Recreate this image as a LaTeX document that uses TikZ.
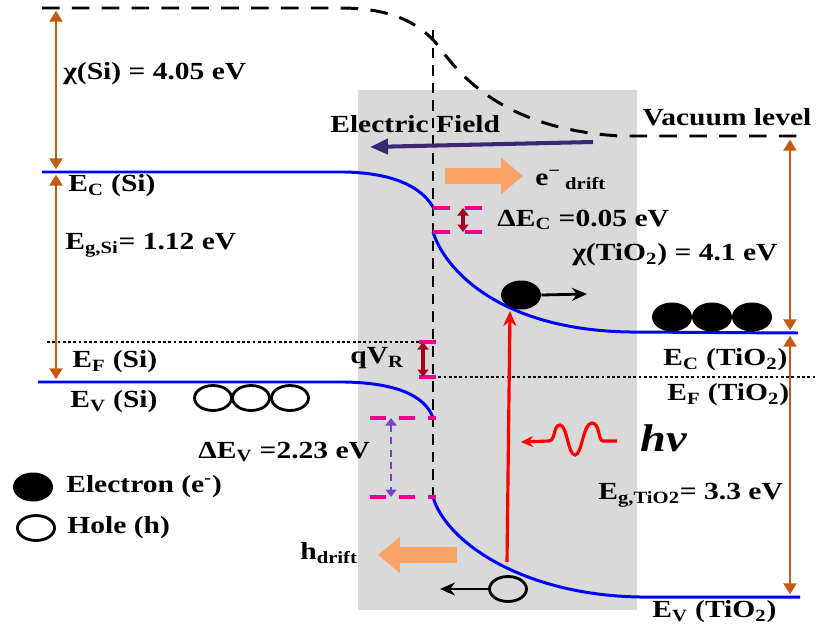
\documentclass[tikz,border=0pt]{standalone}
\usepackage{fontspec}
\setmainfont{Liberation Serif}[FakeStretch=1.2]
\usetikzlibrary{arrows.meta,shapes.geometric}
\definecolor{bandblue}{HTML}{0000FF}
\definecolor{gapbrown}{HTML}{C55A11}
\definecolor{driftorange}{HTML}{F9A366}
\definecolor{junctiongray}{HTML}{D9D9D9}
\definecolor{offsetred}{HTML}{A50021}
\definecolor{fieldpurple}{HTML}{3B2874}
\definecolor{dvviolet}{HTML}{7A3FD0}
\newcommand{\lvl}[2]{#1\textsubscript{#2}}
\newcommand{\tio}{TiO\textsubscript{2}}
\tikzset{
  gtip/.tip={Triangle[length=0.22cm,width=0.26cm]},
  rtip/.tip={Triangle[length=0.15cm,width=0.22cm]},
  lbl/.style={font=\bfseries\fontsize{14}{16}\selectfont, inner sep=0pt, anchor=west},
  band/.style={bandblue, line width=1.7pt},
  vacline/.style={black, line width=1.7pt, dash pattern=on 10pt off 7pt},
  ifline/.style={black, line width=1.5pt, dash pattern=on 6pt off 4pt},
  fermi/.style={black, line width=1.6pt, dash pattern=on 1.6pt off 1.4pt},
  gaparrow/.style={gapbrown, line width=1.1pt, gtip-gtip, shorten <=1.5pt, shorten >=1.5pt},
  offarrow/.style={offsetred, line width=1.8pt, rtip-rtip},
  dvarrow/.style={dvviolet, line width=1.6pt, dash pattern=on 4pt off 3pt, rtip-rtip},
  mtick/.style={magenta, line width=2pt},
  drift/.style={driftorange, line width=0.32cm, -{Triangle[length=0.44cm,width=0.7cm]}},
  electron/.style={ellipse, fill=black, minimum width=0.8cm, minimum height=0.58cm, inner sep=0pt},
  hole/.style={ellipse, draw=black, line width=1.6pt, minimum width=0.74cm, minimum height=0.5cm, inner sep=0pt},
  move/.style={black, line width=1.6pt, -{Stealth[length=0.3cm,width=0.26cm]}},
  absorb/.style={red, line width=1.8pt, -{Stealth[length=0.3cm,width=0.26cm]}}
}
\begin{document}
\begin{tikzpicture}[x=0.02cm,y=-0.02cm]
\useasboundingbox (0,0) rectangle (822,629);
% junction region
\fill[junctiongray] (358,90) rectangle (637,610);

% level end points
\coordinate (vacL) at (42,8);
\coordinate (vacR) at (805,136);
\coordinate (ifTop) at (433,30);
\coordinate (ecL) at (42,172);
\coordinate (ecSiEnd) at (433,207);
\coordinate (ecTiStart) at (433,232);
\coordinate (ecR) at (798,333);
\coordinate (efL) at (47,342);
\coordinate (efM) at (433,342);
\coordinate (efTiL) at (433,377);
\coordinate (efR) at (815,377);
\coordinate (evL) at (38,382);
\coordinate (evSiEnd) at (433,418);
\coordinate (evTiStart) at (433,497);
\coordinate (evR) at (800,597);

% vacuum level and interface
\draw[vacline] (vacL) -- (340,8) .. controls (390,8) and (420,22) .. (440,48)
  .. controls (470,90) and (520,130) .. (620,136) -- (vacR);
\draw[ifline] (ifTop) -- (evTiStart);

% bands
\draw[band] (ecL) -- (345,172) .. controls (390,173) and (420,185) .. (ecSiEnd);
\draw[band] (ecTiStart) .. controls (445,270) and (500,330) .. (630,332) -- (ecR);
\draw[band] (evL) -- (345,382) .. controls (395,383) and (425,395) .. (evSiEnd);
\draw[band] (evTiStart) .. controls (445,540) and (520,595) .. (640,597) -- (evR);
\draw[fermi] (efL) -- (efM);
\draw[fermi] (efTiL) -- (efR);

% gaps and affinities
\coordinate (siVac) at (56,8);
\coordinate (siEc) at (56,172);
\coordinate (siEv) at (56,382);
\coordinate (tiVac) at (790,137);
\coordinate (tiEc) at (790,333);
\coordinate (tiEv) at (790,597);
\draw[gaparrow] (siVac) -- (siEc);
\draw[gaparrow] (siEc) -- (siEv);
\draw[gaparrow] (tiVac) -- (tiEc);
\draw[gaparrow] (tiEc) -- (tiEv);

% band offsets
\draw[mtick] (433,208) -- (450,208) (465,208) -- (482,208)
             (433,232) -- (450,232) (465,232) -- (482,232);
\coordinate (dEcTop) at (463,208);
\coordinate (dEcBot) at (463,232);
\draw[offarrow] (dEcTop) -- (dEcBot);
\draw[mtick] (419,342) -- (436,342) (419,377) -- (436,377);
\coordinate (qvTop) at (423,342);
\coordinate (qvBot) at (423,377);
\draw[offarrow] (qvTop) -- (qvBot);
\draw[mtick, dash pattern=on 9pt off 7.5pt] (370,418) -- (436,418) (370,497) -- (436,497);
\coordinate (dEvTop) at (391,418);
\coordinate (dEvBot) at (391,497);
\draw[dvarrow] (dEvTop) -- (dEvBot);

% field and drift
\coordinate (fieldR) at (593,142);
\coordinate (fieldL) at (370,147);
\draw[fieldpurple, line width=2.3pt, -{Triangle[length=0.36cm,width=0.3cm]}] (fieldR) -- (fieldL);
\coordinate (eDriftA) at (445,176);
\coordinate (eDriftB) at (523,176);
\draw[drift] (eDriftA) -- (eDriftB);
\coordinate (hDriftA) at (457,555);
\coordinate (hDriftB) at (378,555);
\draw[drift] (hDriftA) -- (hDriftB);

% carriers
\node[electron] (eBand) at (521,295) {};
\coordinate (eBandTo) at (587,294);
\draw[move] (eBand.east) -- (eBandTo);
\foreach \x [count=\i] in {672,712,752}
  \node[electron] (eTi\i) at (\x,317) {};
\foreach \x [count=\i] in {213,251,290}
  \node[hole] (hSi\i) at (\x,398) {};
\node[hole] (hBand) at (508,589) {};
\coordinate (hBandTo) at (440,589);
\draw[move] (hBand.west) -- (hBandTo);

% photon
\coordinate (absBot) at (507,562);
\coordinate (absTop) at (510,311);
\draw[absorb] (absBot) -- (absTop);
\coordinate (phStart) at (617,441);
\coordinate (phTip) at (521,442);
\draw[red, line width=1.8pt, -{Stealth[length=0.24cm,width=0.22cm]}] (phStart) -- (603,441)
  .. controls (598,441) and (600,423) .. (592,423)
  .. controls (583,423) and (582,455) .. (575,455)
  .. controls (568,455) and (567,425) .. (560,425)
  .. controls (553,425) and (556,440) .. (549,441) -- (phTip);

% labels
\node[lbl] (chiSi) at (63,74) {χ(Si) = 4.05 eV};
\node[lbl] (ecSi) at (68,186) {\lvl{E}{C} (Si)};
\node[lbl] (egSi) at (65,245) {\lvl{E}{g,Si}= 1.12 eV};
\node[lbl] (efSi) at (72,362) {\lvl{E}{F} (Si)};
\node[lbl] (evSi) at (70,402) {\lvl{E}{V} (Si)};
\node[lbl] (qvr) at (350,358) {q\lvl{V}{R}};
\node[lbl] (dEv) at (198,452) {Δ\lvl{E}{V} =2.23 eV};
\node[lbl] (field) at (330,124) {Electric Field};
\node[lbl, anchor=center] (vac) at (727,117) {Vacuum level};
\node[lbl] (eDrift) at (535,180) {e\textsuperscript{−}\,\textsubscript{drift}};
\node[lbl] (dEc) at (497,220) {Δ\lvl{E}{C} =0.05 eV};
\node[lbl] (chiTi) at (572,255) {χ(\tio) = 4.1 eV};
\node[lbl] (ecTi) at (663,360) {\lvl{E}{C} (\tio)};
\node[lbl] (efTi) at (667,395) {\lvl{E}{F} (\tio)};
\node[lbl, font=\bfseries\itshape\fontsize{22}{24}\selectfont] (hv) at (640,438) {hv};
\node[lbl] (egTi) at (598,495) {\lvl{E}{g,TiO2}= 3.3 eV};
\node[lbl] (evTi) at (652,612) {\lvl{E}{V} (\tio)};
\node[lbl] (hDrift) at (300,553) {\lvl{h}{drift}};

% legend
\node[electron] (legE) at (33,487) {};
\node[lbl] (legEtxt) at (66,487) {Electron (e\textsuperscript{-})};
\node[hole] (legH) at (36,528) {};
\node[lbl] (legHtxt) at (67,528) {Hole (h)};
\end{tikzpicture}
\end{document}
